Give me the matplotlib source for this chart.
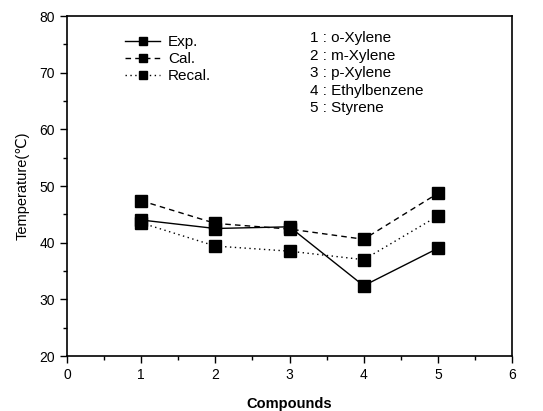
import matplotlib
matplotlib.use("Agg")
import matplotlib.pyplot as plt
from matplotlib.ticker import MultipleLocator

plt.rcParams['font.family'] = ['Liberation Sans', 'DejaVu Sans']

# --- data ---
compounds = [1, 2, 3, 4, 5]
exp_temp = [44.0, 42.5, 42.8, 32.4, 39.0]
cal_temp = [47.4, 43.4, 42.4, 40.6, 48.7]
recal_temp = [43.5, 39.4, 38.5, 37.0, 44.7]
compound_names = ["o-Xylene", "m-Xylene", "p-Xylene", "Ethylbenzene", "Styrene"]

fig = plt.figure(figsize=(5.43, 4.11), dpi=100)
ax = fig.add_axes([67 / 543, 1 - 356 / 411, 445 / 543, 340 / 411])

ax.plot(compounds, exp_temp, color="black", linestyle="-", linewidth=1.0,
        marker="s", markersize=9, label="Exp.")
ax.plot(compounds, cal_temp, color="black", linestyle=(0, (4, 3)), linewidth=1.0,
        marker="s", markersize=9, label="Cal.")
ax.plot(compounds, recal_temp, color="black", linestyle=(0, (1, 2.5)), linewidth=1.0,
        marker="s", markersize=9, label="Recal.")

ax.set_xlim(0, 6)
ax.set_ylim(20, 80)
ax.xaxis.set_major_locator(MultipleLocator(1))
ax.xaxis.set_minor_locator(MultipleLocator(0.5))
ax.yaxis.set_major_locator(MultipleLocator(10))
ax.yaxis.set_minor_locator(MultipleLocator(5))
ax.tick_params(axis="both", which="major", direction="out", length=5, width=1,
               labelsize=10, top=False, right=False)
ax.tick_params(axis="both", which="minor", direction="out", length=3, width=1,
               top=False, right=False)
for side in ax.spines.values():
    side.set_linewidth(1.2)

ax.set_xlabel("Compounds", fontsize=10.5, fontweight="bold", labelpad=11)
ax.set_ylabel("Temperature(℃)", fontsize=10.5, labelpad=7)

leg = ax.legend(loc="upper left", bbox_to_anchor=(0.1, 0.985), frameon=False,
                fontsize=11, handlelength=2.3, handletextpad=0.5,
                labelspacing=0.2, markerscale=0.6)

listing = "\n".join(f"{i} : {name}" for i, name in zip(compounds, compound_names))
ax.text(0.545, 0.955, listing, transform=ax.transAxes, fontsize=11,
        va="top", ha="left", linespacing=1.32)

fig.savefig("out.png", dpi=100)
